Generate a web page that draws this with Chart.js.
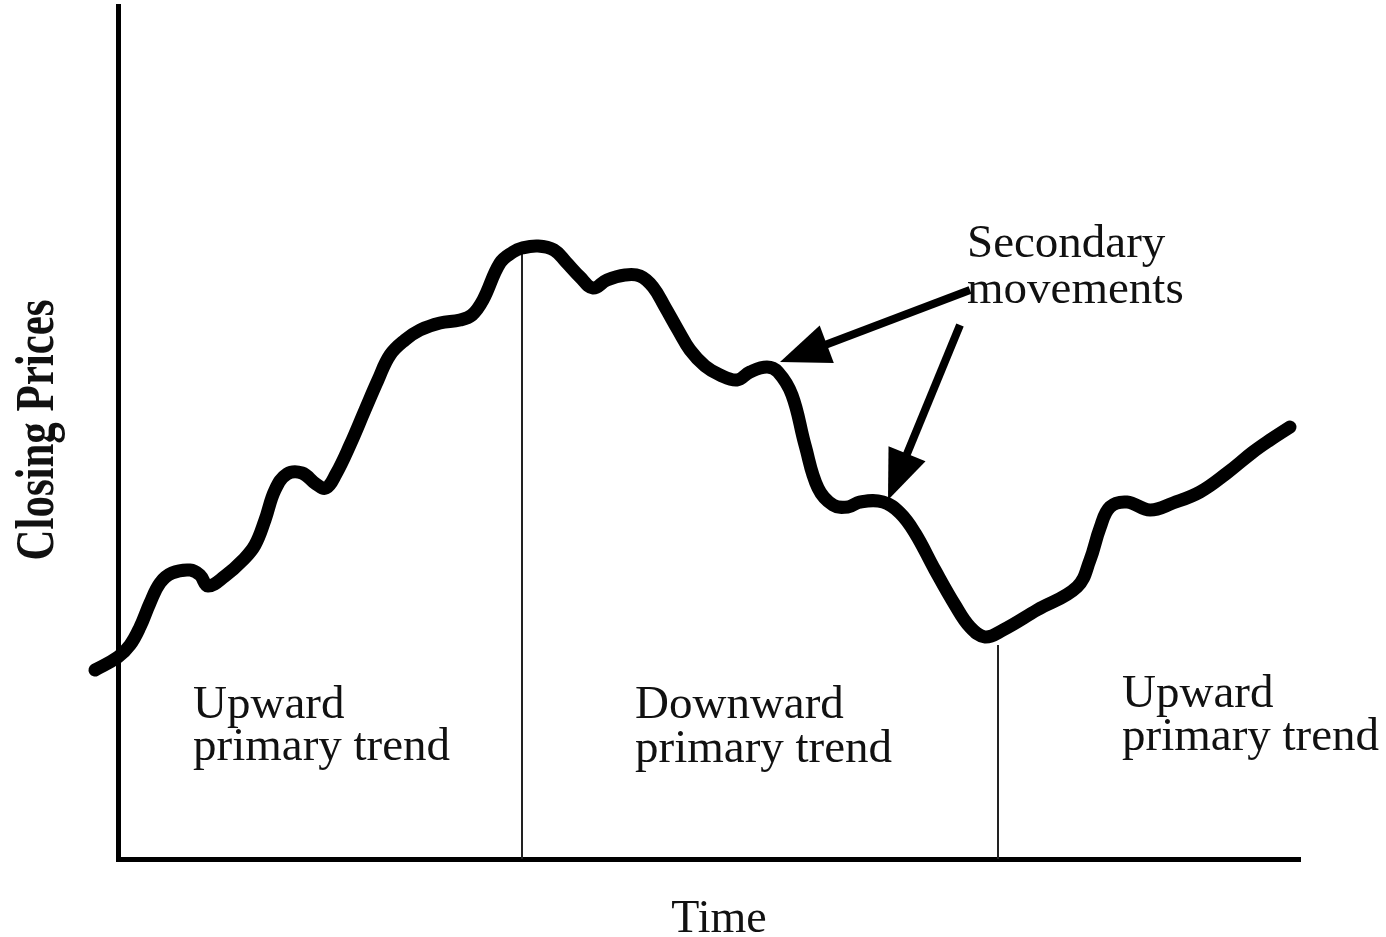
<!DOCTYPE html>
<html>
<head>
<meta charset="utf-8">
<title>Primary trend and secondary movements</title>
<script src="https://cdn.jsdelivr.net/npm/chart.js@4.4.1/dist/chart.umd.min.js"></script>
<style>
  html, body { margin: 0; padding: 0; background: #fff; }
  #wrap { width: 1386px; height: 937px; position: relative; }
</style>
</head>
<body>
<div id="wrap">
  <canvas id="chartCanvas" width="1386" height="937"></canvas>
</div>
<script>
// closing price path, time on x, price on y
const timeVals = [-23, 0, 12, 22, 32, 42, 54, 72, 82, 90,
  107, 125, 137, 147, 157, 169, 184, 198, 208, 218,
  232, 247, 260, 272, 287, 302, 322, 342, 354, 365,
  382, 395, 404, 420, 436, 448, 462, 475, 489, 507, 522,
  535, 547, 560, 572, 587, 602, 619, 632, 649,
  660, 674, 687, 700, 715, 730, 742, 765, 782, 797,
  817, 837, 852, 867, 885, 919, 959, 972, 982, 992,
  1009, 1032, 1055, 1082, 1109, 1135, 1152, 1172];
const priceVals = [189, 202, 214, 232, 256, 276, 286, 289, 284, 273,
  283, 299, 314, 339, 369, 385, 386, 375, 371, 385,
  414, 449, 479, 504, 519, 529, 536, 539, 544, 559,
  596, 607, 611, 613, 609, 597, 582, 571, 579, 584, 583,
  572, 552, 529, 509, 493, 484, 479, 487, 492,
  487, 464, 414, 371, 354, 352, 357, 357, 346, 326,
  289, 254, 232, 222, 229, 249, 272, 299, 331, 352,
  357, 349, 356, 367, 386, 407, 419, 432];

// trend boundaries: time and the price where the divider meets the curve
const dividerTimes = [404, 880];
const dividerTops = [611, 214];

// arrows pointing at the secondary movements [time, price]
const arrowFrom = [[852, 569], [842, 534]];
const arrowTo = [[662, 497], [770, 359]];

const trendLabels = [
  ["Upward", "primary trend"],
  ["Downward", "primary trend"],
  ["Upward", "primary trend"],
];

const serif = '"Liberation Serif", "Times New Roman", serif';

const dividerSets = dividerTimes.map((t, i) => ({
  data: [{ x: t, y: 0 }, { x: t, y: dividerTops[i] }],
  borderColor: "#222",
  borderWidth: 2,
  pointRadius: 0,
  tension: 0,
  order: 2,
}));

// arrows + text labels
const notesPlugin = {
  id: "notes",
  afterDatasetsDraw(chart) {
    const { ctx, scales } = chart;
    const xs = scales.x;
    const ys = scales.y;

    ctx.save();
    ctx.fillStyle = "#000";
    ctx.strokeStyle = "#000";
    arrowFrom.forEach((from, i) => {
      const x1 = xs.getPixelForValue(from[0]);
      const y1 = ys.getPixelForValue(from[1]);
      const x2 = xs.getPixelForValue(arrowTo[i][0]);
      const y2 = ys.getPixelForValue(arrowTo[i][1]);
      const len = Math.hypot(x2 - x1, y2 - y1);
      const ux = (x2 - x1) / len;
      const uy = (y2 - y1) / len;
      const headLen = 50;
      const headHalf = 20;
      const bx = x2 - ux * headLen;
      const by = y2 - uy * headLen;

      ctx.lineWidth = 8;
      ctx.lineCap = "butt";
      ctx.beginPath();
      ctx.moveTo(x1, y1);
      ctx.lineTo(bx + ux * 4, by + uy * 4);
      ctx.stroke();

      ctx.beginPath();
      ctx.moveTo(x2, y2);
      ctx.lineTo(bx - uy * headHalf, by + ux * headHalf);
      ctx.lineTo(bx + uy * headHalf, by - ux * headHalf);
      ctx.closePath();
      ctx.fill();
    });

    ctx.fillStyle = "#111";
    ctx.font = "47px " + serif;
    ctx.textAlign = "left";
    ctx.textBaseline = "alphabetic";
    ctx.fillText("Secondary", 967, 257);
    ctx.fillText("movements", 967, 303);

    const labelPos = [[193, 718, 42], [635, 718, 44], [1122, 707, 43]];
    trendLabels.forEach((lines, i) => {
      const [lx, ly, gap] = labelPos[i];
      ctx.fillText(lines[0], lx, ly);
      ctx.fillText(lines[1], lx, ly + gap);
    });

    // axis titles
    ctx.textAlign = "center";
    ctx.font = "46px " + serif;
    ctx.fillText("Time", 719, 932);

    ctx.translate(53, 430);
    ctx.rotate(-Math.PI / 2);
    ctx.scale(0.78, 1);
    ctx.font = "bold 55px " + serif;
    ctx.fillText("Closing Prices", 0, 0);
    ctx.restore();
  },
};

const ctx = document.getElementById("chartCanvas").getContext("2d");
new Chart(ctx, {
  type: "line",
  data: {
    datasets: [
      {
        label: "Closing price",
        data: timeVals.map((t, i) => ({ x: t, y: priceVals[i] })),
        borderColor: "#000",
        borderWidth: 13,
        borderJoinStyle: "round",
        borderCapStyle: "round",
        pointRadius: 0,
        tension: 0.4,
        clip: false,
        order: 1,
      },
      ...dividerSets,
    ],
  },
  options: {
    responsive: false,
    animation: false,
    layout: { padding: { left: 118, top: 6, right: 86, bottom: 78 } },
    plugins: {
      legend: { display: false },
      tooltip: { enabled: false },
    },
    scales: {
      x: {
        type: "linear",
        min: 0,
        max: 1182,
        ticks: { display: false },
        grid: { display: false, drawTicks: false },
        border: { display: true, color: "#000", width: 5 },
      },
      y: {
        type: "linear",
        min: 0,
        max: 853,
        ticks: { display: false },
        grid: { display: false, drawTicks: false },
        border: { display: true, color: "#000", width: 5 },
      },
    },
  },
  plugins: [notesPlugin],
});
</script>
</body>
</html>
